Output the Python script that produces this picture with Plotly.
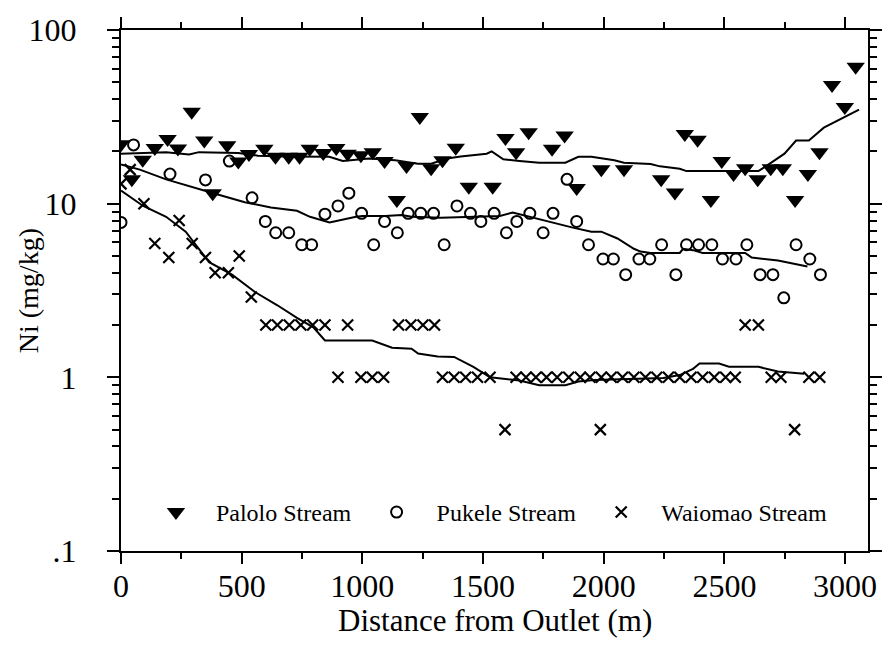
import plotly.graph_objects as go

# Palolo Stream samples: distance from outlet (m) and Ni (mg/kg)
palolo_x = [0, 45, 90, 140, 193, 236, 293, 345, 380, 440, 486, 530, 594, 640, 695, 740,
            782, 838, 892, 939, 994, 1043, 1092, 1143, 1183, 1238, 1285, 1332, 1387, 1441,
            1540, 1593, 1637, 1689, 1786, 1838, 1888, 1990, 2084, 2238, 2295, 2336, 2389,
            2444, 2489, 2538, 2586, 2638, 2692, 2742, 2793, 2846, 2894, 2946, 2999, 3044]
palolo_y = [22, 13.8, 17.9, 20.9, 23.6, 20.8, 33.8, 23.1, 11.5, 21.7, 17.5, 19.3, 20.7, 18.6,
            18.6, 18.6, 20.7, 19.6, 20.9, 19.4, 19.0, 19.8, 17.6, 10.5, 16.5, 31.6, 16.0, 17.8,
            21.0, 12.5, 12.5, 23.9, 19.8, 25.8, 20.7, 24.7, 12.3, 15.8, 15.8, 13.8, 11.6, 25.2,
            23.3, 10.5, 17.6, 14.8, 16.0, 13.8, 16.0, 16.0, 10.5, 14.8, 19.8, 48.3, 36, 61.4]

# Pukele Stream samples
pukele_x = [0, 52, 203, 350, 449, 543, 598, 641, 695, 749, 790, 845, 899, 944, 997, 1047,
            1092, 1145, 1190, 1242, 1295, 1339, 1392, 1448, 1491, 1546, 1597, 1640, 1694,
            1749, 1790, 1848, 1888, 1937, 1997, 2040, 2091, 2146, 2191, 2240, 2299, 2343,
            2393, 2448, 2492, 2548, 2593, 2648, 2701, 2746, 2797, 2854, 2898]
pukele_y = [7.8, 21.8, 14.8, 13.7, 17.6, 10.8, 7.9, 6.8, 6.8, 5.8, 5.8, 8.7, 9.7, 11.5, 8.8,
            5.8, 7.9, 6.8, 8.8, 8.8, 8.8, 5.8, 9.7, 8.8, 7.9, 8.8, 6.8, 7.9, 8.8, 6.8, 8.8,
            13.8, 7.9, 5.8, 4.8, 4.8, 3.9, 4.8, 4.8, 5.8, 3.9, 5.8, 5.8, 5.8, 4.8, 4.8, 5.8,
            3.9, 3.9, 2.87, 5.8, 4.8, 3.9]

# Waiomao Stream samples
waiomao_x = [0, 38, 95, 140, 198, 241, 295, 350, 390, 445, 490, 540, 600, 648, 697, 745,
             794, 845, 899, 939, 994, 1041, 1088, 1150, 1201, 1251, 1299, 1332, 1380, 1428,
             1477, 1529, 1591, 1637, 1678, 1719, 1763, 1807, 1855, 1903, 1943, 1986, 1990,
             2031, 2078, 2125, 2173, 2220, 2268, 2315, 2362, 2410, 2458, 2505, 2545, 2586,
             2641, 2694, 2734, 2791, 2850, 2895]
waiomao_y = [13.0, 15.7, 10.0, 5.9, 4.9, 8.0, 5.9, 4.9, 4.0, 4.0, 5.0, 2.9, 2, 2, 2, 2,
             2, 2, 1, 2, 1, 1, 1, 2, 2, 2, 2, 1, 1, 1,
             1, 1, 0.5, 1, 1, 1, 1, 1, 1, 1, 1, 0.5, 1,
             1, 1, 1, 1, 1, 1, 1, 1, 1, 1, 1, 1, 2,
             2, 1, 1, 0.5, 1, 1]

# Smoothed trend curves
palolo_fit_x = [0, 187, 282, 323, 486, 567, 676, 863, 919, 960, 1027, 1136, 1230, 1285, 1352,
                1407, 1515, 1536, 1584, 1651, 1733, 1841, 1895, 1949, 2044, 2084, 2194, 2233,
                2315, 2343, 2519, 2641, 2688, 2749, 2797, 2850, 2912, 2993, 3058]
palolo_fit_y = [19.4, 19.8, 19.2, 19.8, 19.6, 18.9, 18.7, 18.6, 17.6, 17.8, 18.2, 17.8, 17.0,
                17.0, 18.2, 18.7, 19.4, 20.0, 18.0, 17.6, 17.2, 17.2, 18.6, 18.6, 17.8, 17.2,
                16.9, 16.4, 15.9, 15.4, 15.4, 15.4, 17.0, 19.4, 23.1, 23.1, 27.4, 31.2, 34.8]

pukele_fit_x = [0, 78, 187, 323, 390, 513, 594, 621, 729, 783, 864, 933, 974, 1000, 1095,
                1163, 1204, 1325, 1434, 1570, 1623, 1664, 1733, 1786, 1868, 1949, 1990, 2057,
                2125, 2153, 2194, 2315, 2329, 2370, 2410, 2586, 2613, 2722, 2844]
pukele_fit_y = [16.8, 15.7, 13.8, 12.1, 11.4, 10.2, 9.7, 9.5, 9.1, 8.4, 7.8, 8.2, 8.4, 8.5,
                8.5, 8.6, 8.4, 8.3, 8.4, 8.5, 8.9, 8.6, 8.2, 7.8, 7.3, 6.9, 6.9, 6.3, 5.5, 5.3,
                5.2, 5.2, 5.5, 5.4, 5.2, 5.2, 4.9, 4.7, 4.35]

waiomao_fit_x = [0, 92, 187, 268, 365, 460, 555, 648, 729, 797, 845, 974, 1041, 1123, 1204,
                 1231, 1312, 1380, 1460, 1529, 1584, 1651, 1733, 1841, 1895, 1962, 2247, 2315,
                 2370, 2397, 2478, 2519, 2641, 2722, 2830]
waiomao_fit_y = [11.9, 9.7, 8.4, 6.9, 4.6, 3.9, 3.1, 2.6, 2.2, 1.94, 1.63, 1.63, 1.63, 1.48,
                 1.46, 1.37, 1.32, 1.31, 1.15, 1.0, 0.98, 0.96, 0.90, 0.90, 0.945, 0.965, 0.99,
                 1.03, 1.12, 1.2, 1.2, 1.15, 1.15, 1.08, 1.05]

series_names = ["Palolo Stream", "Pukele Stream", "Waiomao Stream"]

x_range = [0, 3095]
y_range = [-1, 2]          # log10 of 0.1 .. 100
x_major = [0, 500, 1000, 1500, 2000, 2500, 3000]
x_minor = [250, 750, 1250, 1750, 2250, 2750]
y_major = [0.1, 1, 10, 100]
y_labels = [".1", "1", "10", "100"]
y_minor = [m * d for d in (0.1, 1, 10) for m in range(2, 10)]

FONT = "Liberation Serif"
TICK_FONT = dict(family=FONT, size=32, color="black")
PAD = "\u00a0" * 3          # keeps the y labels clear of the ticks

fig = go.Figure()

# trend curves, spread over the overlaid axes so that each axis gets drawn
fig.add_trace(go.Scatter(x=palolo_fit_x, y=palolo_fit_y, mode="lines", showlegend=False,
                         xaxis="x2", yaxis="y2", hoverinfo="skip",
                         line=dict(color="black", width=2)))
fig.add_trace(go.Scatter(x=pukele_fit_x, y=pukele_fit_y, mode="lines", showlegend=False,
                         xaxis="x2", yaxis="y2", hoverinfo="skip",
                         line=dict(color="black", width=2)))
fig.add_trace(go.Scatter(x=waiomao_fit_x, y=waiomao_fit_y, mode="lines", showlegend=False,
                         xaxis="x3", hoverinfo="skip", line=dict(color="black", width=2)))

fig.add_trace(go.Scatter(x=palolo_x, y=palolo_y, mode="markers", name=series_names[0],
                         marker=dict(symbol="triangle-down", size=16, color="black",
                                     line=dict(width=0))))
fig.add_trace(go.Scatter(x=pukele_x, y=pukele_y, mode="markers", name=series_names[1],
                         marker=dict(symbol="circle-open", size=11, color="black",
                                     line=dict(width=2, color="black"))))
fig.add_trace(go.Scatter(x=waiomao_x, y=waiomao_y, mode="markers", name=series_names[2],
                         marker=dict(symbol="x-thin-open", size=11, color="black",
                                     line=dict(width=2.2, color="black"))))

frame = dict(showline=True, linecolor="black", linewidth=2, showgrid=False, zeroline=False)
ticks = dict(ticks="outside", tickcolor="black", tickwidth=2, mirror="allticks")

fig.update_layout(
    # bottom axis labels (short ticks keep the labels close to the frame)
    xaxis=dict(**frame, **ticks, range=x_range, tickvals=x_major, ticklen=6,
               tickfont=TICK_FONT),
    # minor x ticks
    xaxis2=dict(**frame, **ticks, overlaying="x", anchor="y", side="bottom", range=x_range,
                tickvals=x_minor, ticklen=6, showticklabels=False),
    # full-length major x ticks, mirrored on top
    xaxis3=dict(**frame, **ticks, overlaying="x", anchor="y", side="bottom", range=x_range,
                tickvals=x_major, ticklen=11, showticklabels=False),
    # left axis: major ticks + labels, mirrored on the right
    yaxis=dict(**frame, **ticks, type="log", range=y_range, tickvals=y_major,
               ticktext=[lab + PAD for lab in y_labels], ticklen=12, tickfont=TICK_FONT),
    # minor y ticks
    yaxis2=dict(**frame, **ticks, overlaying="y", anchor="x", side="left", type="log",
                range=y_range, tickvals=y_minor, ticklen=7, showticklabels=False),
)

# axis titles
fig.add_annotation(text="Distance from Outlet (m)", xref="paper", yref="paper",
                   x=0.5, y=-0.133, xanchor="center", yanchor="middle", showarrow=False,
                   font=dict(family=FONT, size=31, color="black"))
fig.add_annotation(text="Ni (mg/kg)", xref="paper", yref="paper", textangle=-90,
                   x=-0.1235, y=0.5, xanchor="center", yanchor="middle", showarrow=False,
                   font=dict(family=FONT, size=28, color="black"))

fig.update_layout(
    width=894, height=652,
    margin=dict(l=121, r=12, t=21, b=101),
    plot_bgcolor="white", paper_bgcolor="white",
    font=dict(family=FONT, color="black"),
    legend=dict(orientation="h", x=0.020, y=0.074, xanchor="left", yanchor="middle",
                bgcolor="rgba(0,0,0,0)", font=dict(family=FONT, size=24, color="black"),
                itemwidth=70),
)

fig.write_html("out.html")
